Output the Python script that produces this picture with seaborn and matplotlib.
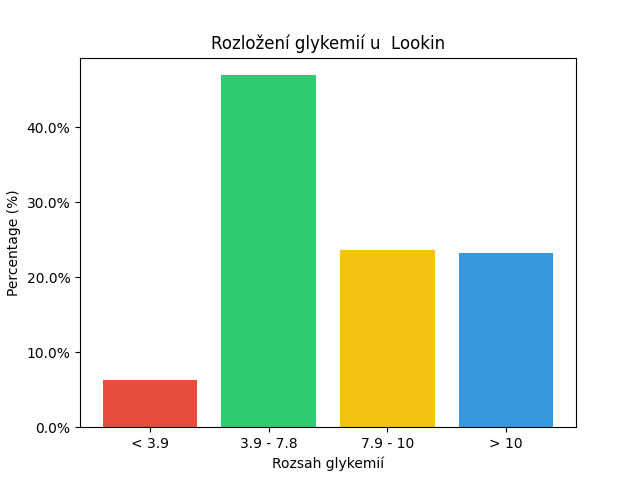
import matplotlib
matplotlib.use('Agg')
import matplotlib.pyplot as plt
import matplotlib.ticker as mtick
import pandas as pd
import seaborn as sns

categories = ['< 3.9', '3.9 - 7.8', '7.9 - 10', '> 10']
percentages = [6.27, 46.93, 23.6, 23.2]
colors = ['#e74c3c', '#2ecc71', '#f1c40f', '#3498db']

df = pd.DataFrame({'range': categories, 'pct': percentages})

fig, ax = plt.subplots(figsize=(6.4, 4.8), dpi=100)
sns.barplot(data=df, x='range', y='pct', hue='range', palette=colors,
            saturation=1, width=0.8, legend=False, ax=ax)

ax.yaxis.set_major_formatter(mtick.PercentFormatter(decimals=1))
ax.set_title('Rozložení glykemií u  Lookin')
ax.set_xlabel('Rozsah glykemií')
ax.set_ylabel('Percentage (%)')
# same spacing as plain matplotlib bars: 5% margin around the bar span
ax.set_xlim(-0.59, 3.59)
ax.margins(y=0.05)

plt.savefig('out.png', dpi=100)
plt.close('all')
